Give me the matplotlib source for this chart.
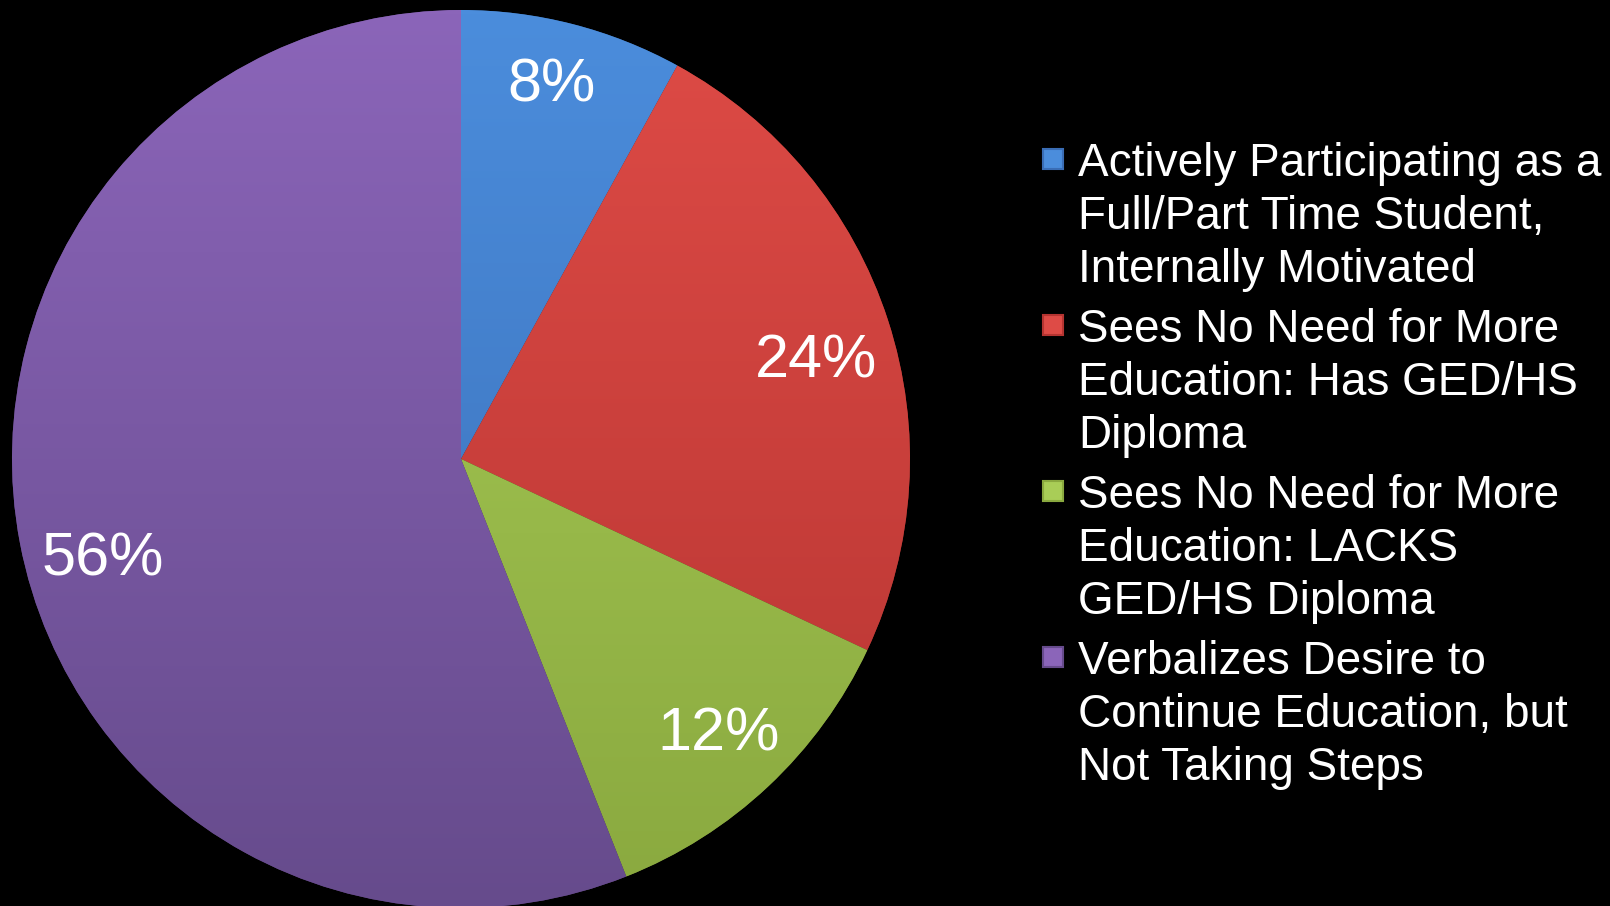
import numpy as np
import matplotlib
matplotlib.use("Agg")
import matplotlib.pyplot as plt
from matplotlib.patches import Rectangle

shares = [8, 24, 12, 56]
labels = [
    "Actively Participating as a\nFull/Part Time Student,\nInternally Motivated",
    "Sees No Need for More\nEducation: Has GED/HS\nDiploma",
    "Sees No Need for More\nEducation: LACKS\nGED/HS Diploma",
    "Verbalizes Desire to\nContinue Education, but\nNot Taking Steps",
]
# light (top) and dark (bottom) shade of each slice
tops = ["#4b8ddc", "#de4b46", "#a9cd57", "#8b65b9"]
bottoms = ["#3a6db5", "#b53431", "#8aa93f", "#664b8c"]

plt.rcParams['font.family'] = ['Liberation Sans', 'DejaVu Sans']

W, H = 1610, 906
fig = plt.figure(figsize=(W / 100, H / 100), dpi=100, facecolor="black")
ax = fig.add_axes([0, 0, 1, 1])
ax.set_facecolor("black")

cx, cy, r = 461, H - 459, 449
wedges, _, pcts = ax.pie(shares, center=(cx, cy), radius=r, startangle=90,
                         counterclock=False, colors=tops,
                         autopct=lambda p: f"{p:.0f}%", pctdistance=0.845,
                         wedgeprops=dict(linewidth=1.2, edgecolor="#00000055"),
                         textprops=dict(color="white", fontsize=44))
ax.set_xlim(0, W)
ax.set_ylim(0, H)
ax.set_aspect("equal")
ax.axis("off")

# vertical shading inside each slice
t = np.linspace(0, 1, 256)[:, None]
for w, c0, c1 in zip(wedges, tops, bottoms):
    a = np.array(matplotlib.colors.to_rgb(c0))
    b = np.array(matplotlib.colors.to_rgb(c1))
    img = (1 - t)[..., None] * a + t[..., None] * b
    img = np.repeat(img, 2, axis=1)
    im = ax.imshow(img, extent=(cx - r, cx + r, cy - r, cy + r),
                   origin="upper", aspect="auto", zorder=1.5)
    im.set_clip_path(w)

# percentage labels sit a little off the slice mid-lines
label_xy = [(551, 86), (816, 362), (719, 735), (103, 560)]
for p, (x, y) in zip(pcts, label_xy):
    p.set_position((x, H - y))
    p.set_zorder(3)

# legend, one square per entry next to its first line
y0, step = H - 159, 166
for i, (lab, c0, c1) in enumerate(zip(labels, tops, bottoms)):
    y = y0 - i * step
    ax.add_patch(Rectangle((1043, y - 10), 20, 20, facecolor=c0,
                           edgecolor=c1, linewidth=1.5, zorder=3))
    ax.text(1078, y + 17, lab, color="white", fontsize=33, va="top",
            ha="left", linespacing=1.27, zorder=3)

fig.savefig("out.png", dpi=100, facecolor="black")
